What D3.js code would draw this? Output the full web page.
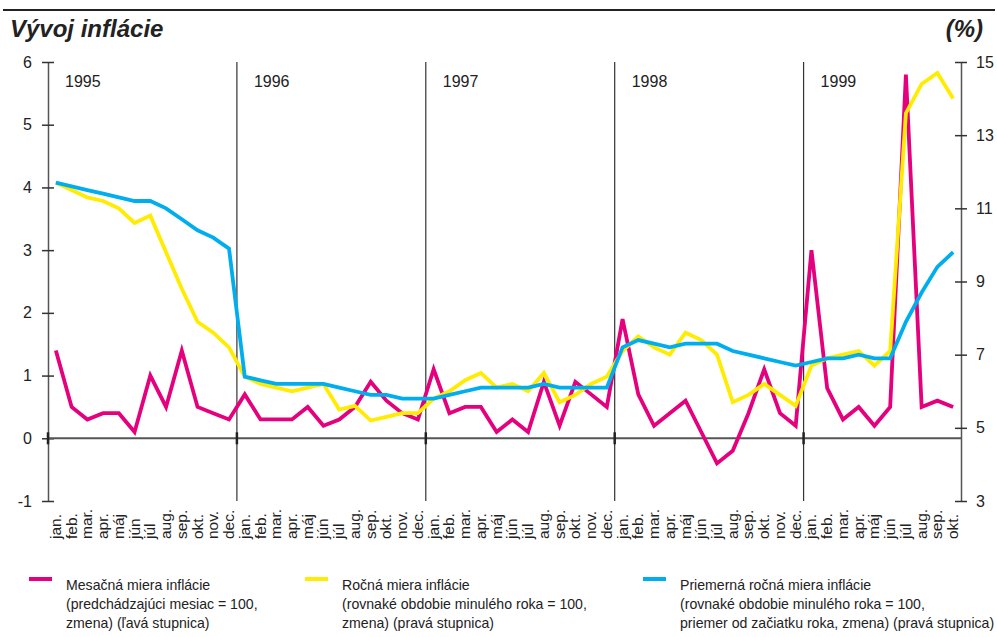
<!DOCTYPE html>
<html>
<head>
<meta charset="utf-8">
<script src="https://cdn.jsdelivr.net/npm/d3@7"></script>
<style>
    body { margin: 0; background: #fff; }
    text { font-family: "Liberation Sans", Arial, sans-serif; fill: #222; }
</style>
</head>
<body>
<script>
const width = 997
const height = 637

// data

const years = ["1995", "1996", "1997", "1998", "1999"]
const monthNames = ["jan.", "feb.", "mar.", "apr.", "máj", "jún", "júl", "aug.", "sep.", "okt.", "nov.", "dec."]
const months = d3.range(58).map(i => monthNames[i % 12])

// mesačná miera inflácie (ľavá stupnica)
const monthly = [
    1.4, 0.5, 0.3, 0.4, 0.4, 0.1, 1.0, 0.5, 1.4, 0.5, 0.4, 0.3,
    0.7, 0.3, 0.3, 0.3, 0.5, 0.2, 0.3, 0.5, 0.9, 0.6, 0.4, 0.3,
    1.1, 0.4, 0.5, 0.5, 0.1, 0.3, 0.1, 0.9, 0.2, 0.9, 0.7, 0.5,
    1.9, 0.7, 0.2, 0.4, 0.6, 0.1, -0.4, -0.2, 0.4, 1.1, 0.4, 0.2,
    3.0, 0.8, 0.3, 0.5, 0.2, 0.5, 5.8, 0.5, 0.6, 0.5
]
// ročná miera inflácie (pravá stupnica)
const annual = [
    11.7, 11.5, 11.3, 11.2, 11.0, 10.6, 10.8, 9.8, 8.8, 7.9, 7.6, 7.2,
    6.4, 6.2, 6.1, 6.0, 6.1, 6.2, 5.5, 5.6, 5.2, 5.3, 5.4, 5.4,
    5.8, 6.0, 6.3, 6.5, 6.1, 6.2, 6.0, 6.5, 5.7, 5.9, 6.2, 6.4,
    7.1, 7.5, 7.2, 7.0, 7.6, 7.4, 7.0, 5.7, 5.9, 6.2, 5.9, 5.6,
    6.7, 6.9, 7.0, 7.1, 6.7, 7.1, 13.6, 14.4, 14.7, 14.0
]
// priemerná ročná miera inflácie (pravá stupnica)
const average = [
    11.7, 11.6, 11.5, 11.4, 11.3, 11.2, 11.2, 11.0, 10.7, 10.4, 10.2, 9.9,
    6.4, 6.3, 6.2, 6.2, 6.2, 6.2, 6.1, 6.0, 5.9, 5.9, 5.8, 5.8,
    5.8, 5.9, 6.0, 6.1, 6.1, 6.1, 6.1, 6.2, 6.1, 6.1, 6.1, 6.1,
    7.2, 7.4, 7.3, 7.2, 7.3, 7.3, 7.3, 7.1, 7.0, 6.9, 6.8, 6.7,
    6.8, 6.9, 6.9, 7.0, 6.9, 6.9, 7.9, 8.7, 9.4, 9.8
]

const leftTicks = [-1, 0, 1, 2, 3, 4, 5, 6]
const rightTicks = [3, 5, 7, 9, 11, 13, 15]

const legendItems = [
    {color: "#e5007d", x: 66, lines: ["Mesačná miera inflácie", "(predchádzajúci mesiac = 100,", "zmena) (ľavá stupnica)"]},
    {color: "#ffec00", x: 342, lines: ["Ročná miera inflácie", "(rovnaké obdobie minulého roka = 100,", "zmena) (pravá stupnica)"]},
    {color: "#00aeef", x: 680, lines: ["Priemerná ročná miera inflácie", "(rovnaké obdobie minulého roka = 100,", "priemer od začiatku roka, zmena) (pravá stupnica)"]}
]

// scales

const plotLeft = 48
const plotRight = 961
const plotTop = 62
const plotBottom = 501

const sx = d3.scaleBand()
    .domain(d3.range(months.length))
    .range([plotLeft, plotRight])

const syL = d3.scaleLinear()
    .domain([-1, 6])
    .range([plotBottom, plotTop])

const syR = d3.scaleLinear()
    .domain([3, 15])
    .range([plotBottom, plotTop])

const cx = i => sx(i) + sx.bandwidth() / 2

let svg = d3.select("body")
    .append("svg")
    .attr("width", width)
    .attr("height", height)

// title

svg.append("line")
    .attr("x1", 3).attr("x2", 995)
    .attr("y1", 10).attr("y2", 10)
    .attr("stroke", "#222")
    .attr("stroke-width", 2)

svg.append("text")
    .attr("x", 10).attr("y", 37)
    .attr("font-size", 24)
    .attr("font-weight", "bold")
    .attr("font-style", "italic")
    .text("Vývoj inflácie")

svg.append("text")
    .attr("x", 983).attr("y", 37)
    .attr("text-anchor", "end")
    .attr("font-size", 24)
    .attr("font-weight", "bold")
    .attr("font-style", "italic")
    .text("(%)")

// year separators

svg.append("g")
    .selectAll("line")
    .data(years.slice(1))
    .enter().append("line")
    .attr("x1", (_, i) => sx((i + 1) * 12))
    .attr("x2", (_, i) => sx((i + 1) * 12))
    .attr("y1", plotTop)
    .attr("y2", plotBottom)
    .attr("stroke", "#333")
    .attr("stroke-width", 1.2)

svg.append("g")
    .selectAll("text")
    .data(years)
    .enter().append("text")
    .attr("x", (_, i) => sx(i * 12) + 17)
    .attr("y", 87)
    .attr("font-size", 16)
    .text(d => d)

// axes

const fmt = d => String(d)

let axisL = svg.append("g")
    .attr("transform", `translate(${plotLeft},0)`)
    .call(d3.axisLeft(syL).tickValues(leftTicks).tickFormat(fmt).tickSize(6).tickPadding(10).tickSizeOuter(0))
axisL.select(".domain").attr("stroke", "#555").attr("stroke-width", 1.5)
axisL.selectAll(".tick line").attr("x1", 6).attr("stroke", "#333").attr("stroke-width", 1.5)
axisL.selectAll(".tick text").attr("font-size", 16).attr("font-family", "Liberation Sans, Arial, sans-serif").attr("fill", "#222")

let axisR = svg.append("g")
    .attr("transform", `translate(${plotRight},0)`)
    .call(d3.axisRight(syR).tickValues(rightTicks).tickFormat(fmt).tickSize(6).tickPadding(9).tickSizeOuter(0))
axisR.select(".domain").attr("stroke", "#555").attr("stroke-width", 1.5)
axisR.selectAll(".tick line").attr("x1", -6).attr("stroke", "#333").attr("stroke-width", 1.5)
axisR.selectAll(".tick text").attr("font-size", 16).attr("font-family", "Liberation Sans, Arial, sans-serif").attr("fill", "#222")

// zero line

svg.append("line")
    .attr("x1", plotLeft).attr("x2", plotRight)
    .attr("y1", syL(0)).attr("y2", syL(0))
    .attr("stroke", "#555")
    .attr("stroke-width", 2)

svg.append("g")
    .selectAll("line")
    .data(years)
    .enter().append("line")
    .attr("x1", (_, i) => sx(i * 12))
    .attr("x2", (_, i) => sx(i * 12))
    .attr("y1", syL(0) - 6)
    .attr("y2", syL(0) + 6)
    .attr("stroke", "#222")
    .attr("stroke-width", 2.5)

// month labels

svg.append("g")
    .selectAll("text")
    .data(months)
    .enter().append("text")
    .attr("transform", (_, i) => `translate(${cx(i) + 5},539) rotate(-90)`)
    .attr("font-size", 15.5)
    .text(d => d)

// lines

const series = [
    {values: monthly, scale: syL, color: "#e5007d"},
    {values: annual, scale: syR, color: "#ffec00"},
    {values: average, scale: syR, color: "#00aeef"}
]

svg.append("g")
    .selectAll("path")
    .data(series)
    .enter().append("path")
    .attr("fill", "none")
    .attr("stroke", d => d.color)
    .attr("stroke-width", 3.8)
    .attr("stroke-linejoin", "miter")
    .attr("d", d => d3.line().x((_, i) => cx(i)).y(v => d.scale(v))(d.values))

// legend

let legend = svg.append("g")
    .selectAll("g")
    .data(legendItems)
    .enter().append("g")

legend.append("line")
    .attr("x1", d => d.x - 37).attr("x2", d => d.x - 14)
    .attr("y1", 579).attr("y2", 579)
    .attr("stroke", d => d.color)
    .attr("stroke-width", 4)

legend.selectAll("text")
    .data(d => d.lines.map(t => ({t, x: d.x})))
    .enter().append("text")
    .attr("x", d => d.x)
    .attr("y", (_, i) => 590 + i * 19)
    .attr("font-size", 14.1)
    .text(d => d.t)
</script>
</body>
</html>
